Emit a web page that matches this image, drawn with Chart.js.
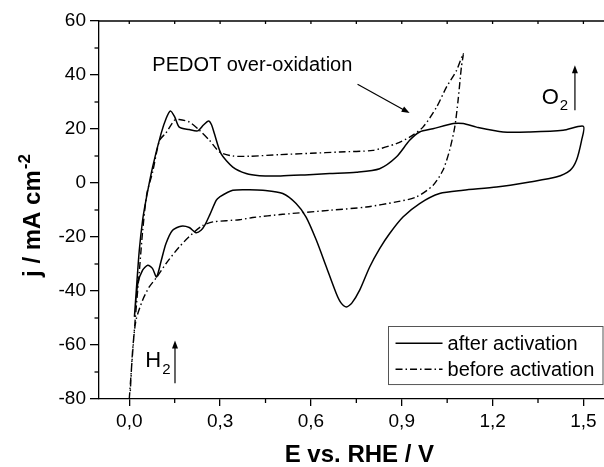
<!DOCTYPE html>
<html><head><meta charset="utf-8">
<script src="https://cdn.jsdelivr.net/npm/chart.js@4.4.1/dist/chart.umd.min.js"></script>
<style>html,body{margin:0;padding:0;background:#fff;overflow:hidden;}#wrap{width:604px;height:467px;position:relative;}canvas{display:block;}</style>
</head><body><div id="wrap"><canvas id="c" width="604" height="467"></canvas></div>
<script>
// ---- data (E in V vs RHE, j in mA cm-2) ----
const afterE = [0.017,0.025,0.033,0.044,0.055,0.077,0.105,0.122,0.136,0.150,0.165,0.198,0.226,0.245,0.262,0.272,0.281,0.303,0.342,0.386,0.430,0.500,0.580,0.662,0.750,0.827,0.882,0.926,0.959,1.003,1.070,1.103,1.147,1.235,1.323,1.433,1.500,
  1.494,1.477,1.456,1.410,1.323,1.213,1.103,1.025,0.959,0.904,0.860,0.827,0.794,0.761,0.735,0.717,0.700,0.684,0.651,0.618,0.584,0.551,0.507,0.441,0.397,0.342,0.298,0.287,0.265,0.250,0.237,0.220,0.198,0.171,0.143,0.121,0.105,0.090,0.077,0.061,0.044,0.028,0.017];
const afterJ = [-49.6,-37,-25,-13.8,-6.4,5.9,18.3,24,26.7,24.5,20.7,19.8,19.3,21.5,23,21.5,18.3,10.9,5.9,3.5,2.7,2.6,3,3.5,4,5.3,9.6,15.8,18.9,20.1,22,22,20.7,18.9,18.9,19.5,21,
  15.8,8.4,4.7,2.2,0.4,-1.5,-2.7,-3.9,-7.6,-12.6,-18.7,-24.3,-31.1,-39.7,-44.5,-45.9,-44.5,-41,-31.1,-21.2,-12.6,-7.6,-3.9,-2.7,-2.5,-2.7,-5.2,-6.4,-12,-15.5,-17.5,-18.4,-16.5,-16,-17.5,-22.5,-29,-34.8,-31.7,-30.5,-32.3,-37.3,-49.6];
const beforeE = [0.000,0.009,0.020,0.033,0.044,0.058,0.077,0.100,0.121,0.149,0.165,0.198,0.232,0.265,0.298,0.342,0.397,0.496,0.600,0.695,0.805,0.882,0.926,0.970,1.015,1.048,1.081,1.103,
  1.097,1.086,1.075,1.058,1.036,1.003,0.948,0.882,0.783,0.662,0.507,0.408,0.364,0.276,0.243,0.209,0.165,0.121,0.090,0.066,0.044,0.022,0.011,0.003];
const beforeJ = [-80,-66,-50,-33,-18,-4,4,15.8,18.5,23.2,23.5,22.6,19.5,15.8,11.5,10,9.9,10.5,11,11.5,12.1,14.6,17,20.7,28.1,35.6,41.7,47.9,
  43,30.6,20.7,12.1,4.7,-0.9,-5.2,-7,-8.9,-10.1,-11.6,-12.8,-13.6,-14.4,-15.7,-18.7,-23.7,-29.9,-35,-38.5,-43.4,-50.9,-62,-78];
const seriesLabels = ['after activation', 'before activation'];
const xTicks = [0, 0.3, 0.6, 0.9, 1.2, 1.5];
const yTicks = [-80, -60, -40, -20, 0, 20, 40, 60];
const xTitle = 'E vs. RHE / V';
const yTitleMain = 'j / mA cm';
const yTitleSup = '-2';
const annoText = 'PEDOT over-oxidation';

const FONT = "'Liberation Sans', Arial, Helvetica, sans-serif";
const DASHDOT = [7, 3, 1.5, 3];
const toPts = (xs, ys) => xs.map((x, i) => ({x: x, y: ys[i]}));

function midTicks(arr) {
  const out = [];
  for (let i = 0; i < arr.length - 1; i++) out.push((arr[i] + arr[i + 1]) / 2);
  return out;
}

function drawSub(ctx, x, y, main, sub, size) {
  ctx.font = size + 'px ' + FONT;
  ctx.textAlign = 'left';
  ctx.textBaseline = 'alphabetic';
  ctx.fillText(main, x, y);
  const w = ctx.measureText(main).width;
  ctx.font = Math.round(size * 0.68) + 'px ' + FONT;
  ctx.fillText(sub, x + w + 1, y + size * 0.28);
}

function arrow(ctx, x1, y1, x2, y2) {
  const a = Math.atan2(y2 - y1, x2 - x1);
  const L = 8, W = 3;
  ctx.beginPath();
  ctx.moveTo(x1, y1);
  ctx.lineTo(x2 - L * 0.8 * Math.cos(a), y2 - L * 0.8 * Math.sin(a));
  ctx.stroke();
  ctx.beginPath();
  ctx.moveTo(x2, y2);
  ctx.lineTo(x2 - L * Math.cos(a) + W * Math.sin(a), y2 - L * Math.sin(a) - W * Math.cos(a));
  ctx.lineTo(x2 - L * Math.cos(a) - W * Math.sin(a), y2 - L * Math.sin(a) + W * Math.cos(a));
  ctx.closePath();
  ctx.fill();
}

const decor = {
  id: 'decor',
  afterDraw(chart) {
    const ctx = chart.ctx, xs = chart.scales.x, ys = chart.scales.y, ca = chart.chartArea;
    const X = v => xs.getPixelForValue(v), Y = v => ys.getPixelForValue(v);
    ctx.save();
    ctx.strokeStyle = '#000'; ctx.fillStyle = '#000'; ctx.lineWidth = 1.3;
    // top axis line
    ctx.beginPath(); ctx.moveTo(ca.left, ca.top); ctx.lineTo(ca.right, ca.top); ctx.stroke();
    // minor ticks bottom
    midTicks(xTicks).forEach(v => { ctx.beginPath(); ctx.moveTo(X(v), ca.bottom); ctx.lineTo(X(v), ca.bottom + 4); ctx.stroke(); });
    // top ticks inward (major + minor)
    xTicks.concat(midTicks(xTicks)).forEach(v => { ctx.beginPath(); ctx.moveTo(X(v), ca.top); ctx.lineTo(X(v), ca.top + 3); ctx.stroke(); });
    // minor ticks y
    midTicks(yTicks).forEach(v => { ctx.beginPath(); ctx.moveTo(ca.left, Y(v)); ctx.lineTo(ca.left - 4.5, Y(v)); ctx.stroke(); });

    // axis titles
    ctx.font = 'bold 24px ' + FONT; ctx.textAlign = 'center'; ctx.textBaseline = 'alphabetic';
    ctx.fillText(xTitle, X(0.76), 462);
    ctx.save();
    ctx.translate(40, (Y(-80) + Y(60)) / 2 + 6);
    ctx.rotate(-Math.PI / 2);
    ctx.textAlign = 'left';
    ctx.font = 'bold 24px ' + FONT;
    const w1 = ctx.measureText(yTitleMain).width;
    ctx.font = 'bold 17px ' + FONT;
    const w2 = ctx.measureText(yTitleSup).width;
    const start = -(w1 + w2) / 2;
    ctx.font = 'bold 24px ' + FONT;
    ctx.fillText(yTitleMain, start, 0);
    ctx.font = 'bold 17px ' + FONT;
    ctx.fillText(yTitleSup, start + w1 + 1, -10);
    ctx.restore();

    // annotation
    ctx.font = '20px ' + FONT; ctx.textAlign = 'left';
    ctx.fillText(annoText, X(0.076), Y(41.5));
    ctx.lineWidth = 1.2;
    arrow(ctx, X(0.754), Y(36.6), X(0.926), Y(25.9));
    drawSub(ctx, X(1.362), Y(29.4), 'O', '2', 22);
    arrow(ctx, X(1.472), Y(26.9), X(1.472), Y(43.6));
    drawSub(ctx, X(0.053), Y(-68.3), 'H', '2', 22);
    arrow(ctx, X(0.151), Y(-74.2), X(0.151), Y(-58.3));

    // legend
    const lx = X(0.853), ly = Y(-53.1), lb = Y(-74.6);
    ctx.lineWidth = 1; ctx.strokeStyle = '#555';
    ctx.strokeRect(Math.round(lx) + 0.5, Math.round(ly) + 0.5, 603 - Math.round(lx) - 0.5, lb - ly);
    ctx.strokeStyle = '#000'; ctx.lineWidth = 1.5;
    const rows = [ly + 17, ly + 43];
    chart.data.datasets.forEach((ds, i) => {
      ctx.setLineDash(ds.borderDash || []);
      ctx.beginPath(); ctx.moveTo(lx + 8, rows[i]); ctx.lineTo(lx + 55, rows[i]); ctx.stroke();
      ctx.setLineDash([]);
      ctx.font = '20px ' + FONT; ctx.textBaseline = 'middle'; ctx.textAlign = 'left';
      ctx.fillText(ds.label, lx + 60, rows[i] + 1);
    });
    ctx.restore();
  }
};

const fmt = v => Number(v).toFixed(1).replace('.', ',');

new Chart(document.getElementById('c'), {
  type: 'scatter',
  data: {
    datasets: [
      { label: seriesLabels[0], data: toPts(afterE, afterJ), showLine: true, borderColor: '#000', borderWidth: 1.5, pointRadius: 0, tension: 0.25, fill: false },
      { label: seriesLabels[1], data: toPts(beforeE, beforeJ), showLine: true, borderColor: '#000', borderWidth: 1.4, borderDash: DASHDOT, pointRadius: 0, tension: 0.25, fill: false }
    ]
  },
  options: {
    responsive: false, animation: false, devicePixelRatio: 1,
    layout: { padding: { top: 21, right: 0, bottom: 0, left: 0 } },
    plugins: { legend: { display: false }, tooltip: { enabled: false } },
    scales: {
      x: {
        type: 'linear', min: -0.1, max: 1.568,
        afterBuildTicks: s => { s.ticks = xTicks.map(v => ({ value: v })); },
        afterFit: s => { s.height = 68; },
        ticks: { callback: v => fmt(v), color: '#000', font: { family: FONT, size: 19 }, padding: 4, maxRotation: 0, autoSkip: false },
        grid: { display: true, drawOnChartArea: false, drawTicks: true, tickLength: 7, color: '#000', lineWidth: 1.3 },
        border: { display: true, color: '#000', width: 1.3 }
      },
      y: {
        type: 'linear', min: -80, max: 60,
        afterBuildTicks: s => { s.ticks = yTicks.map(v => ({ value: v })); },
        afterFit: s => { s.width = 99; },
        ticks: { callback: v => String(v), color: '#000', font: { family: FONT, size: 19 }, padding: 4, autoSkip: false },
        grid: { display: true, drawOnChartArea: false, drawTicks: true, tickLength: 9, color: '#000', lineWidth: 1.3 },
        border: { display: true, color: '#000', width: 1.3 }
      }
    }
  },
  plugins: [decor]
});
</script></body></html>
